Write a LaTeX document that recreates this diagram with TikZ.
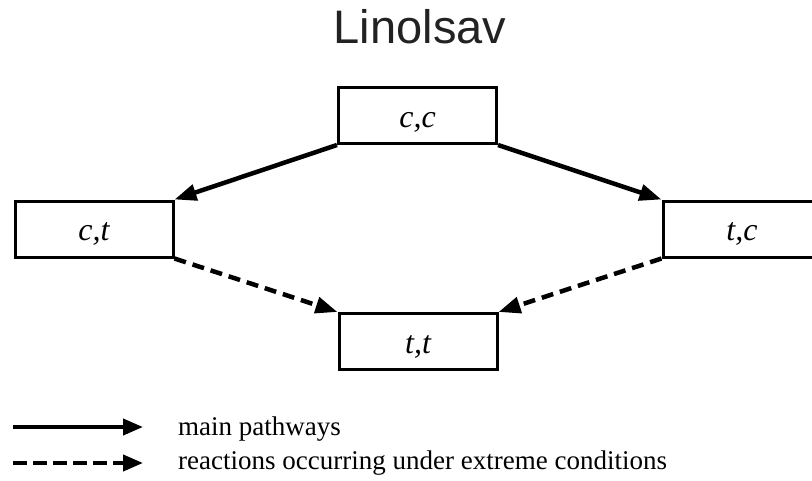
\documentclass[tikz,border=0pt]{standalone}
\usepackage{fontspec}
\setmainfont{Liberation Serif}
\newfontfamily\titlefont{Liberation Sans}
\usetikzlibrary{arrows.meta}
\definecolor{titlegray}{HTML}{222222}
\tikzset{
  isobox/.style={draw=black, line width=3pt, minimum width=158pt, minimum height=56pt, inner sep=0pt, text height=23pt, text depth=0pt, font=\fontsize{32}{32}\selectfont\itshape, fill=white},
  mainarrow/.style={line width=4.5pt, -{Triangle[length=22pt,width=16pt]}},
  sidearrow/.style={line width=4.5pt, dash pattern=on 12pt off 7pt, -{Triangle[length=22pt,width=16pt]}},
  legendsolid/.style={line width=4pt, -{Triangle[length=20pt,width=16pt]}},
  legenddash/.style={line width=4pt, dash pattern=on 14pt off 6pt, -{Triangle[length=20pt,width=16pt]}},
  legendtext/.style={anchor=base west, inner sep=0pt, font=\fontsize{27}{27}\selectfont}
}
\begin{document}
\begin{tikzpicture}[x=1pt,y=-1pt]
\useasboundingbox (0,0) rectangle (812,480);
\clip (0,0) rectangle (812,480);
\node[anchor=base, inner sep=0pt, text=titlegray, font=\titlefont\fontsize{47}{47}\selectfont] (title) at (420,43) {Linolsav};
\node[isobox] (cc) at (417.5,115.5) {c,c};
\node[isobox] (ct) at (94,229) {c,t};
\node[isobox] (tc) at (742,229) {t,c};
\node[isobox] (tt) at (418,341.5) {t,t};
\draw[mainarrow] (cc.south west) -- (ct.north east);
\draw[mainarrow] (cc.south east) -- (tc.north west);
\draw[sidearrow] (ct.south east) -- (tt.north west);
\draw[sidearrow] (tc.south west) -- (tt.north east);
\coordinate (l1a) at (13,427);
\coordinate (l1b) at (143,427);
\coordinate (l2a) at (13,463);
\coordinate (l2b) at (143,463);
\draw[legendsolid] (l1a) -- (l1b);
\draw[legenddash] (l2a) -- (l2b);
\node[legendtext] (t1) at (178,435) {main pathways};
\node[legendtext] (t2) at (178,469) {reactions occurring under extreme conditions};
\end{tikzpicture}
\end{document}
